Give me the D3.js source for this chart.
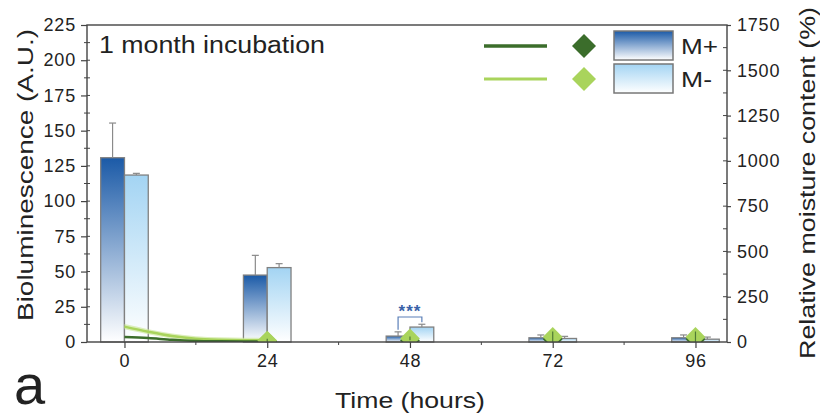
<!DOCTYPE html>
<html>
<head>
<meta charset="utf-8">
<script src="https://cdn.jsdelivr.net/npm/d3@7"></script>
<style>
  html, body { margin: 0; padding: 0; background: #fff; }
  svg { display: block; }
  text { font-family: "Liberation Sans", Arial, sans-serif; fill: #222; }
</style>
</head>
<body>
<svg id="chart" width="820" height="419"></svg>
<script>
// ---------- data ----------
const times = [0, 24, 48, 72, 96];
const mPlus = [130.8, 47.5, 4.2, 3.0, 3.0];
const mPlusErr = [24.6, 14, 3, 2, 2];
const mMinus = [118.5, 52.8, 10.6, 2.5, 2.0];
const mMinusErr = [1.2, 2.8, 2, 1.5, 1.5];

const moistLineTimes = [0, 4, 8, 12, 16, 20, 24];
const moistPlusLine = [28, 22, 12, 6, 4, 3, 3];
const moistMinusLine = [85, 57, 33, 18, 12, 10, 10];

const markerTimes = [24, 48, 72, 96];
const moistPlusPts = [4, 8, 15, 15];
const moistMinusPts = [8, 20, 28, 28];
const moistPtsErr = [10, 10, 30, 30];

const xTicks = [0, 24, 48, 72, 96];
const yLeftTicks = [0, 25, 50, 75, 100, 125, 150, 175, 200, 225];
const yRightTicks = [0, 250, 500, 750, 1000, 1250, 1500, 1750];

// ---------- layout ----------
const L = 87, R = 727, T = 25, B = 342;
const svg = d3.select("#chart");

const x = d3.scaleLinear().domain([-6.3, 101.3]).range([L, R]);
const yL = d3.scaleLinear().domain([0, 225]).range([B, T]);
const yR = d3.scaleLinear().domain([0, 1750]).range([B, T]);
const bw = x(4) - x(0);

const defs = svg.append("defs");
function grad(id, top) {
  const g = defs.append("linearGradient").attr("id", id)
    .attr("x1", 0).attr("y1", 0).attr("x2", 0).attr("y2", 1);
  g.append("stop").attr("offset", "0%").attr("stop-color", top);
  g.append("stop").attr("offset", "100%").attr("stop-color", "#ffffff");
}
grad("gPlus", "#1b5aa7");
grad("gMinus", "#a3d4f3");
defs.append("clipPath").attr("id", "plotClip")
  .append("rect").attr("x", L).attr("y", T).attr("width", R - L).attr("height", B - T);

// ---------- bars ----------
const barG = svg.append("g");
const barStroke = "#808080";
function drawBars(vals, errs, offset, fill) {
  times.forEach((t, i) => {
    const x0 = x(t) + offset * bw;
    barG.append("rect")
      .attr("x", x0).attr("y", yL(vals[i]))
      .attr("width", bw).attr("height", yL(0) - yL(vals[i]))
      .attr("fill", `url(#${fill})`).attr("stroke", barStroke).attr("stroke-width", 1.3);
    const cx = x0 + bw / 2;
    barG.append("line").attr("x1", cx).attr("x2", cx)
      .attr("y1", yL(vals[i])).attr("y2", yL(vals[i] + errs[i]))
      .attr("stroke", "#8a8a8a").attr("stroke-width", 1.2);
    barG.append("line").attr("x1", cx - 3.5).attr("x2", cx + 3.5)
      .attr("y1", yL(vals[i] + errs[i])).attr("y2", yL(vals[i] + errs[i]))
      .attr("stroke", "#8a8a8a").attr("stroke-width", 1.2);
  });
}
drawBars(mPlus, mPlusErr, -1, "gPlus");
drawBars(mMinus, mMinusErr, 0, "gMinus");

// ---------- significance bracket at 48 ----------
const sigG = svg.append("g");
const sx1 = x(48) - bw / 2, sx2 = x(48) + bw / 2;
const sy = 317;
sigG.append("path")
  .attr("d", `M${sx1},${yL(mPlus[2] + mPlusErr[2]) - 2}V${sy}H${sx2}V${yL(mMinus[2] + mMinusErr[2]) - 2}`)
  .attr("fill", "none").attr("stroke", "#5a7fb8").attr("stroke-width", 1.2);
sigG.append("text").attr("x", x(48)).attr("y", 317)
  .attr("text-anchor", "middle").attr("font-size", 17).style("fill", "#3a62a8")
  .attr("font-weight", "bold").attr("letter-spacing", 1).text("***");

// ---------- moisture lines ----------
const lineG = svg.append("g").attr("clip-path", "url(#plotClip)");
const darkGreen = "#3b6d2b", lightGreen = "#a9d45c";
const mLine = d3.line().x((d, i) => x(moistLineTimes[i])).y(d => yR(d)).curve(d3.curveMonotoneX);
const band = d3.area().x((d, i) => x(moistLineTimes[i]))
  .y0(d => yR(Math.max(0, d - 14))).y1(d => yR(d + 14)).curve(d3.curveMonotoneX);
lineG.append("path").datum(moistMinusLine).attr("d", band)
  .attr("fill", "#cfe8a0").attr("opacity", 0.7);
lineG.append("path").datum(moistMinusLine).attr("d", mLine)
  .attr("fill", "none").attr("stroke", lightGreen).attr("stroke-width", 2.5);
lineG.append("path").datum(moistPlusLine).attr("d", mLine)
  .attr("fill", "none").attr("stroke", darkGreen).attr("stroke-width", 2.5);

// markers (diamonds)
const sym = d3.symbol().type(d3.symbolSquare).size(14 * 14);
function drawMarkers(vals, color) {
  markerTimes.forEach((t, i) => {
    lineG.append("path").attr("d", sym)
      .attr("transform", `translate(${x(t)},${yR(vals[i])}) rotate(45)`)
      .attr("fill", color);
  });
}
drawMarkers(moistPlusPts, darkGreen);
drawMarkers(moistMinusPts, lightGreen);
markerTimes.forEach((t, i) => {
  lineG.append("line").attr("x1", x(t)).attr("x2", x(t))
    .attr("y1", yR(moistMinusPts[i] + moistPtsErr[i])).attr("y2", yR(Math.max(0, moistMinusPts[i] - moistPtsErr[i])))
    .attr("stroke", "#4f7a35").attr("stroke-width", 1.2);
});

// ---------- axes ----------
const axisColor = "#444";
const axG = svg.append("g");
axG.append("rect").attr("x", L).attr("y", T).attr("width", R - L).attr("height", B - T)
  .attr("fill", "none").attr("stroke", axisColor).attr("stroke-width", 1.4);

function styleAxis(g) {
  g.select(".domain").remove();
  g.selectAll("line").attr("stroke", axisColor).attr("stroke-width", 1.2);
  g.selectAll("text").attr("font-size", 18).attr("font-family", "Liberation Sans, Arial, sans-serif")
    .style("fill", "#222").attr("letter-spacing", 0.8);
}

// left axis
const leftAxis = axG.append("g").attr("transform", `translate(${L},0)`)
  .call(d3.axisLeft(yL).tickValues(yLeftTicks).tickSize(6).tickPadding(5));
styleAxis(leftAxis);
d3.range(12.5, 225, 25).forEach(v => {
  axG.append("line").attr("x1", L).attr("x2", L - 3).attr("y1", yL(v)).attr("y2", yL(v))
    .attr("stroke", axisColor).attr("stroke-width", 1);
});
d3.range(12.5, 225, 12.5).forEach(v => {
  axG.append("line").attr("x1", L).attr("x2", L + 3).attr("y1", yL(v)).attr("y2", yL(v))
    .attr("stroke", axisColor).attr("stroke-width", 1);
});

// right axis
const rightAxis = axG.append("g").attr("transform", `translate(${R},0)`)
  .call(d3.axisRight(yR).tickValues(yRightTicks).tickFormat(d3.format("d")).tickSize(4).tickPadding(6));
styleAxis(rightAxis);
d3.range(125, 1750, 125).forEach(v => {
  axG.append("line").attr("x1", R).attr("x2", R - 4).attr("y1", yR(v)).attr("y2", yR(v))
    .attr("stroke", axisColor).attr("stroke-width", 1);
});

// bottom axis
const bottomAxis = axG.append("g").attr("transform", `translate(0,${B})`)
  .call(d3.axisBottom(x).tickValues(xTicks).tickSize(6).tickPadding(6));
styleAxis(bottomAxis);
d3.range(12, 96, 24).forEach(v => {
  axG.append("line").attr("x1", x(v)).attr("x2", x(v)).attr("y1", B).attr("y2", B + 3)
    .attr("stroke", axisColor).attr("stroke-width", 1);
});

// ---------- titles ----------
svg.append("text").attr("x", 99).attr("y", 53).attr("font-size", 23)
  .attr("textLength", 226).attr("lengthAdjust", "spacingAndGlyphs").text("1 month incubation");
svg.append("text").attr("x", 410).attr("y", 408).attr("text-anchor", "middle").attr("font-size", 22)
  .attr("textLength", 150).attr("lengthAdjust", "spacingAndGlyphs").text("Time (hours)");
svg.append("text").attr("transform", "translate(33,175) rotate(-90)").attr("text-anchor", "middle")
  .attr("font-size", 22).attr("textLength", 292).attr("lengthAdjust", "spacingAndGlyphs")
  .text("Bioluminescence (A.U.)");
svg.append("text").attr("transform", "translate(815,183) rotate(-90)").attr("text-anchor", "middle")
  .attr("font-size", 22).attr("textLength", 352).attr("lengthAdjust", "spacingAndGlyphs")
  .text("Relative moisture content (%)");
svg.append("text").attr("x", 14).attr("y", 404).attr("font-size", 56).text("a");

// ---------- legend ----------
const lg = svg.append("g");
lg.append("line").attr("x1", 484).attr("x2", 547).attr("y1", 46).attr("y2", 46)
  .attr("stroke", darkGreen).attr("stroke-width", 3.5);
lg.append("line").attr("x1", 484).attr("x2", 547).attr("y1", 79).attr("y2", 79)
  .attr("stroke", lightGreen).attr("stroke-width", 3);
const lsym = d3.symbol().type(d3.symbolSquare).size(17 * 17);
lg.append("path").attr("d", lsym).attr("transform", "translate(584,46) rotate(45)").attr("fill", darkGreen);
lg.append("path").attr("d", lsym).attr("transform", "translate(584,79) rotate(45)").attr("fill", lightGreen);
lg.append("rect").attr("x", 614).attr("y", 31).attr("width", 59).attr("height", 29)
  .attr("fill", "url(#gPlus)").attr("stroke", "#777").attr("stroke-width", 1.5);
lg.append("rect").attr("x", 614).attr("y", 64).attr("width", 59).attr("height", 29)
  .attr("fill", "url(#gMinus)").attr("stroke", "#777").attr("stroke-width", 1.5);
lg.append("text").attr("x", 681).attr("y", 54).attr("font-size", 22)
  .attr("textLength", 37).attr("lengthAdjust", "spacingAndGlyphs").text("M+");
lg.append("text").attr("x", 681).attr("y", 87).attr("font-size", 22)
  .attr("textLength", 31).attr("lengthAdjust", "spacingAndGlyphs").text("M-");
</script>
</body>
</html>
